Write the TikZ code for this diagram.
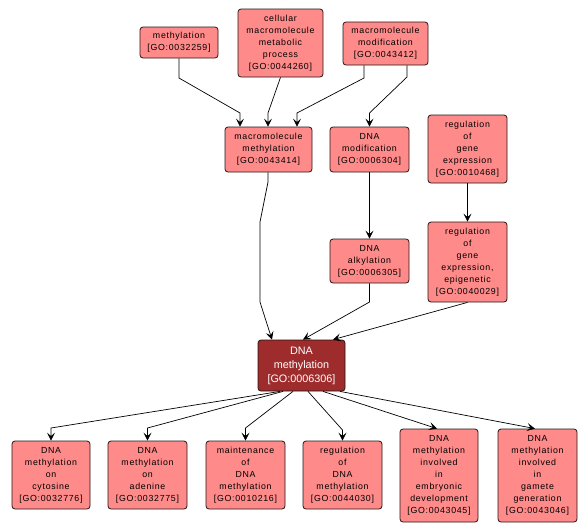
\documentclass[tikz,border=0pt]{standalone}
\usepackage{fontspec}
\setmainfont{Liberation Sans}
\newfontfamily\gofont{Liberation Sans}[LetterSpace=8]
\usetikzlibrary{arrows.meta}
\definecolor{gofill}{RGB}{255,138,138}
\definecolor{gocenter}{RGB}{158,44,44}
\definecolor{goborder}{RGB}{40,20,20}
\tikzset{
  gobox/.style={draw=goborder, line width=0.8pt, fill=gofill, rounded corners=3pt,
    inner sep=0pt, align=center, font=\gofont\fontsize{8.8}{12}\selectfont, text=black},
  gomain/.style={gobox, fill=gocenter, text=white, font=\fontsize{10.8}{14}\selectfont},
  goedge/.style={draw=black, line width=0.7pt, -{Stealth[length=8pt,width=8pt,inset=3.5pt]}},
}
\newcommand{\gonode}[7][gobox]{%
  \node[#1, minimum width={(#4)-(#2)}, minimum height={(#5)-(#3)}]
    (#6) at ({((#2)+(#4))/2},{((#3)+(#5))/2}) {#7};}
\begin{document}
\begin{tikzpicture}[x=1pt,y=-1pt]
\useasboundingbox (0,0) rectangle (587,531);
\fill[white] (0,0) rectangle (587,531);
\gonode{140}{27}{218}{58}{m1}{methylation\\{}[GO:0032259]}
\gonode{238}{9}{323}{77}{m2}{cellular\\macromolecule\\metabolic\\process\\{}[GO:0044260]}
\gonode{343}{22}{428}{65}{m3}{macromolecule\\modification\\{}[GO:0043412]}
\gonode{225}{127}{312}{172}{n1}{macromolecule\\methylation\\{}[GO:0043414]}
\gonode{330}{127}{409}{172}{n2}{DNA\\modification\\{}[GO:0006304]}
\gonode{428}{115}{507}{183}{n3}{regulation\\of\\gene\\expression\\{}[GO:0010468]}
\gonode{330}{239}{409}{283}{a1}{DNA\\alkylation\\{}[GO:0006305]}
\gonode{428}{222}{507}{302}{a2}{regulation\\of\\gene\\expression,\\epigenetic\\{}[GO:0040029]}
\gonode[gomain]{258}{340}{345}{391}{c}{DNA\\methylation\\{}[GO:0006306]}
\gonode{12}{441}{90}{509}{b1}{DNA\\methylation\\on\\cytosine\\{}[GO:0032776]}
\gonode{108}{441}{187}{509}{b2}{DNA\\methylation\\on\\adenine\\{}[GO:0032775]}
\gonode{206}{441}{285}{509}{b3}{maintenance\\of\\DNA\\methylation\\{}[GO:0010216]}
\gonode{303}{441}{382}{509}{b4}{regulation\\of\\DNA\\methylation\\{}[GO:0044030]}
\gonode{400}{429}{478}{522}{b5}{DNA\\methylation\\involved\\in\\embryonic\\development\\{}[GO:0043045]}
\gonode{498}{429}{577}{522}{b6}{DNA\\methylation\\involved\\in\\gamete\\generation\\{}[GO:0043046]}
% upper edges
\draw[goedge] (m1.south) -- (179,78) -- (240,113) -- (n1.north -| 240,0);
\draw[goedge] (m2.south) -- (268,113) -- (n1.north -| 268,0);
\draw[goedge] (m3.south -| 364,0) -- (364,78) -- (297,113) -- (n1.north -| 297,0);
\draw[goedge] (m3.south -| 407,0) -- (407,77) -- (369.5,113) -- (n2.north);
\draw[goedge] (n1.south -| 268,0) -- (268,182) -- (260,222) -- (260,302) -- (c.north -| 272,0);
\draw[goedge] (n2.south) -- (a1.north);
\draw[goedge] (n3.south) -- (a2.north);
\draw[goedge] (a1.south) -- (369.5,302) -- (c.north -| 303,0);
\draw[goedge] (a2.south) -- (c.north -| 333,0);
% lower edges
\draw[goedge] (c.south -| 280,0) -- (51,428) -- (b1.north);
\draw[goedge] (c.south -| 283,0) -- (147.5,428) -- (b2.north);
\draw[goedge] (c.south -| 293,0) -- (245.5,428) -- (b3.north);
\draw[goedge] (c.south -| 308,0) -- (342.5,430) -- (b4.north);
\draw[goedge] (c.south -| 323,0) -- (b5.north -| 437,0);
\draw[goedge] (c.south -| 340,0) -- (b6.north -| 535,0);
\end{tikzpicture}
\end{document}
